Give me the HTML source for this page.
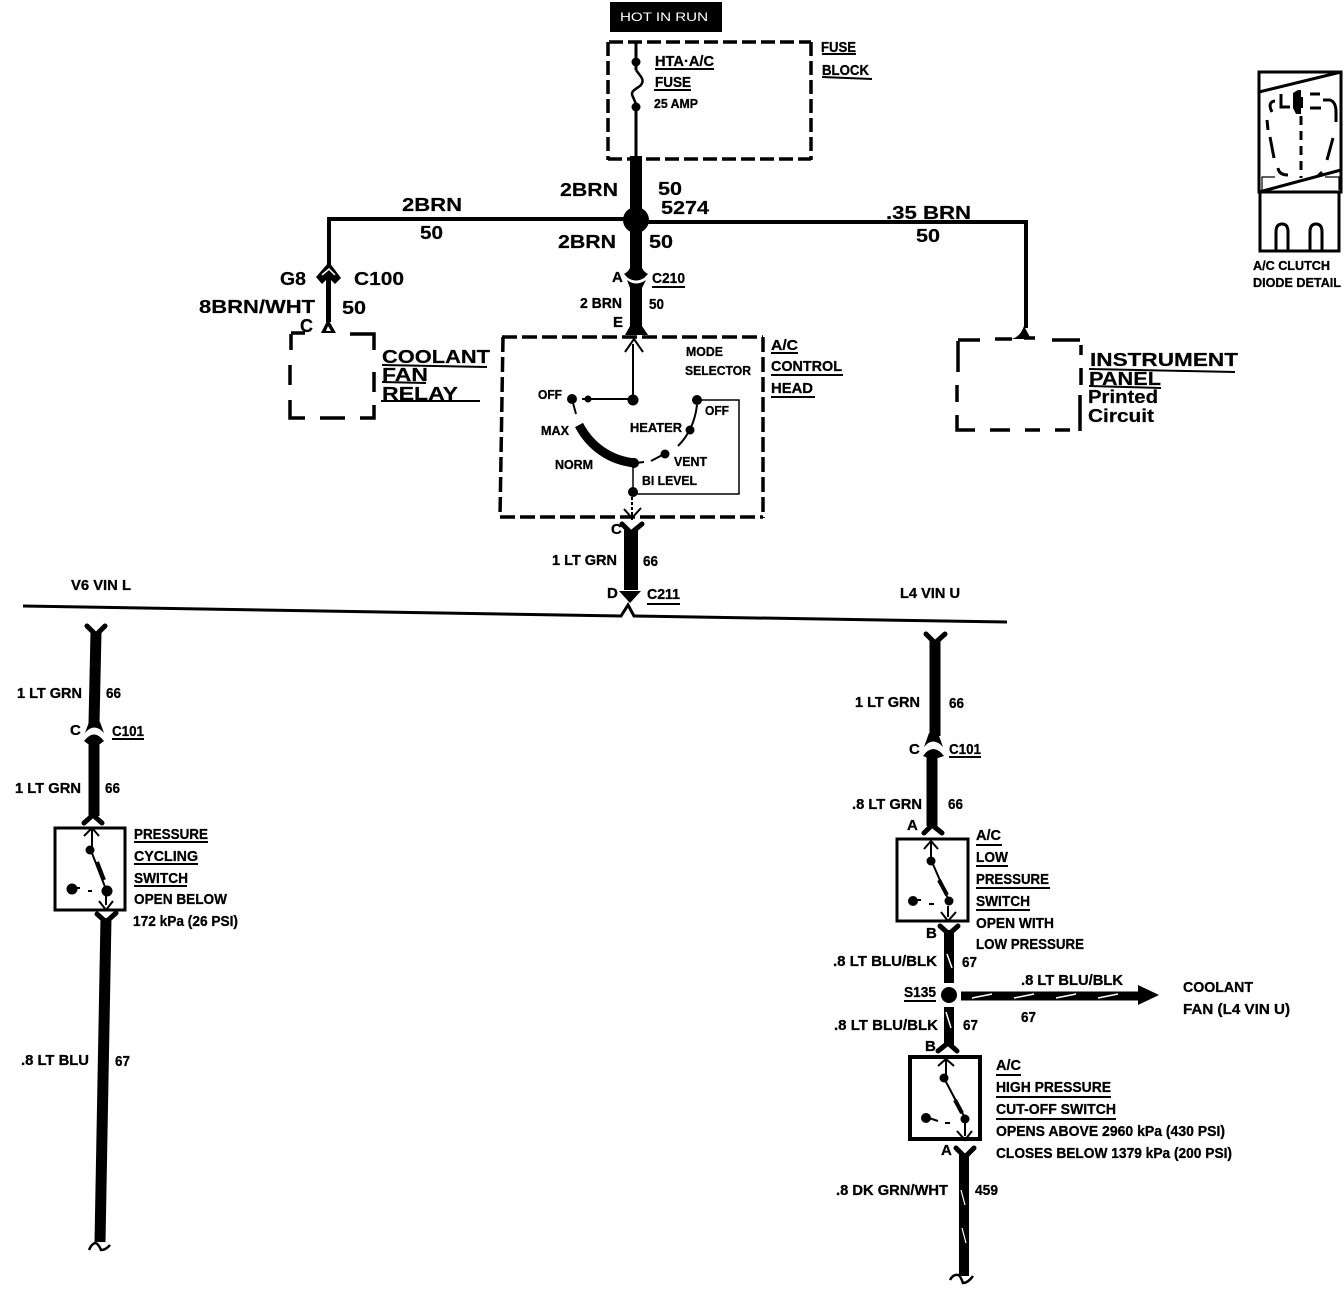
<!DOCTYPE html>
<html><head><meta charset="utf-8"><style>
html,body{margin:0;padding:0;background:#fff}
svg{display:block}
text{font-family:"Liberation Sans",sans-serif;fill:#000}
.b{font-weight:bold;font-size:15px;stroke:#000;stroke-width:.3}
.b text.s{font-size:13px}
.r{font-size:18px;font-weight:bold;stroke:#000;stroke-width:.2}
.l{stroke:#000;fill:none}
.f{stroke:#000;fill:none;stroke-width:5;stroke-linecap:round;stroke-linejoin:round}
.u{stroke:#000;stroke-width:2;fill:none}
</style></head><body>
<svg width="1344" height="1312" viewBox="0 0 1344 1312" xmlns="http://www.w3.org/2000/svg">
<rect x="610" y="2" width="112" height="30" fill="#000"/>
<text x="620" y="21" font-size="12" style="fill:#fff" textLength="88" lengthAdjust="spacingAndGlyphs">HOT IN RUN</text>
<g class="l" stroke-width="3.5">
<path d="M609 42H811M811 42V160M608 159H811M608 42V160" stroke-dasharray="14 5"/>
<path d="M502 337H763M763 337V518M500 517H763M503 337L500 517" stroke-dasharray="15 5"/>
<path d="M291 333H305M350 334H374V350M374 372V392M374 405V418H360M345 418H320M305 418H290V400M290 385V365M291 350V334"/>
<path d="M958 340H980M995 339H1012M1024 338H1035M1052 340H1080M1081 345V355M1081 368V385M1080 395V431M1070 430H1055M1040 430H1025M1010 430H990M975 430H957V415M957 402V385M958 372V341"/>
</g>
<path d="M636 42V70M636 104V156" class="l" stroke-width="3"/><path d="M636 70C640 76 646 80 640 86C634 90 630 92 633 97L636 104" fill="none" stroke="#000" stroke-width="2.5"/>
<circle cx="636" cy="62" r="4.5"/><circle cx="636" cy="107" r="4.5"/>
<path d="M636 156V268" class="l" stroke-width="12"/>
<circle cx="636" cy="220" r="13"/>
<path d="M636 219H329V265M636 222H1026V328" class="l" stroke-width="4"/>
<path d="M1010 339Q1020 338 1024 326L1031 339Z"/>
<!-- C210 -->
<path d="M630 262V268Q628 272 624 274L628 278Q636 283 644 278L648 274Q644 272 642 268V262Z"/>
<path d="M627 280Q636 287 646 280L642 288V326L648 335H625L630 326V288Z"/>
<!-- G8/C100 -->
<path d="M329 262L341 278L335 284L331 280V322H326V280L322 284L316 277Z"/>
<path d="M322 275L329 269L335 275" stroke="#fff" stroke-width="1.5" fill="none"/>
<path d="M321 333L328 319L336 333Z"/><path d="M326 331L328 326L331 331Z" fill="#fff"/>
<!-- selector -->
<path d="M633 344V399H582" class="l" stroke-width="2"/><path d="M625 352L634 339L643 352" class="l" stroke-width="2"/>
<circle cx="572" cy="399" r="5"/><circle cx="588" cy="399" r="3.5"/><circle cx="633" cy="400" r="5.5"/><circle cx="697" cy="400" r="5"/>
<path d="M573 403L576 414" class="l" stroke-width="2"/>
<path d="M579 425C590 446 610 461 636 463" class="l" stroke-width="9"/>
<circle cx="634" cy="463" r="5"/>
<path d="M697 405C695 422 688 436 678 446M668 452L651 461M644 462L636 463" class="l" stroke-width="2"/>
<circle cx="690" cy="430" r="4.5"/><circle cx="665" cy="454" r="4.5"/>
<path d="M700 400H739V494H636M633 467V492" class="l" stroke-width="1.5"/>
<circle cx="633" cy="492" r="5"/><path d="M632 497V515" class="l" stroke-width="2" stroke-dasharray="3 2"/>
<path d="M624 509L632 518L641 508M632 515V520" class="l" stroke-width="2"/>
<path d="M622 524L631 533L642 524" class="f"/>
<path d="M631 530V590" class="l" stroke-width="14"/><path d="M619 591L641 591L630 603Z"/>
<path d="M23 606L621 616L628 605L634 616L1007 622" class="l" stroke-width="3"/>
<!-- left branch -->
<path d="M87 626L96 635L105 626" class="f"/>
<path d="M96 632L94 724" class="l" stroke-width="11"/>
<path d="M89 722L85 733Q94 722 104 733L100 722Z"/><path d="M84 741Q94 728 104 741L100 744H88Z"/>
<path d="M94 738V816" class="l" stroke-width="11"/><path d="M84 823L93 815L102 823" class="f"/>
<rect x="55" y="828" width="70" height="82" fill="#fff" stroke="#000" stroke-width="3"/>
<path d="M92 827V848M84 836L92 828L99 836M90 848L107 892M72 888H80M88 891H92M106 895V905M99 901L106 910L113 901" class="l" stroke-width="2"/>
<path d="M97 862L104 880" class="l" stroke-width="4"/>
<circle cx="90" cy="850" r="4.5"/><circle cx="72" cy="889" r="5.5"/><circle cx="107" cy="891" r="5.5"/>
<path d="M97 914L106 922L116 913" class="f"/>
<path d="M106 918L100 1242" class="l" stroke-width="11"/>
<path d="M89 1250Q92 1243 96 1243Q99 1245 101 1250Q106 1250 110 1245" class="l" stroke-width="2.5"/>
<!-- right branch -->
<path d="M926 634L935 643L945 634" class="f"/>
<path d="M935 640V736" class="l" stroke-width="11"/>
<path d="M929 733L924 747Q933 736 943 747L938 733Z"/><path d="M923 756Q933 742 944 756L938 758H928Z"/>
<path d="M932 755V826" class="l" stroke-width="11"/><path d="M924 833L932 825L942 833" class="f"/>
<rect x="897" y="839" width="71" height="82" fill="#fff" stroke="#000" stroke-width="3"/>
<path d="M931 841V861M924 849L931 841L938 849M932 862L949 901M913 900H921M929 904H934M948 906V917M941 912L948 921L956 912" class="l" stroke-width="2"/>
<path d="M939 880L947 895" class="l" stroke-width="4"/>
<circle cx="931" cy="861" r="4.5"/><circle cx="913" cy="901" r="5"/><circle cx="949" cy="901" r="4.5"/>
<path d="M940 926L949 934L958 926" class="f"/>
<path d="M949 930V983" class="l" stroke-width="10"/>
<circle cx="949" cy="995" r="8"/>
<path d="M949 1007V1046" class="l" stroke-width="10"/>
<path d="M938 1051L948 1043L957 1051" class="f"/>
<path d="M947 954L952 968M946 1012L951 1028" stroke="#fff" stroke-width="1.5"/>
<path d="M961 996H1140" class="l" stroke-width="9"/><path d="M1138 985L1159 995L1138 1005Z"/>
<path d="M972 998L992 994M1014 998L1034 994M1056 998L1076 994M1098 998L1118 994" stroke="#fff" stroke-width="1.5"/>
<rect x="910" y="1057" width="70" height="82" fill="#fff" stroke="#000" stroke-width="4"/>
<path d="M946 1058V1078M938 1066L946 1059L954 1066M945 1080L965 1118M929 1118L938 1121M945 1123H950M965 1122V1136M957 1131L965 1140L972 1131" class="l" stroke-width="2"/>
<path d="M955 1100L962 1113" class="l" stroke-width="4"/>
<circle cx="944" cy="1078" r="4.5"/><circle cx="926" cy="1118" r="5"/><circle cx="965" cy="1119" r="4.5"/>
<path d="M956 1148L965 1157L974 1148" class="f"/>
<path d="M964 1155V1276" class="l" stroke-width="10"/>
<path d="M950 1280Q953 1274 958 1275Q960 1275 963 1283Q968 1283 973 1276" class="l" stroke-width="2.5"/>
<path d="M961 1190L965 1205M962 1228L966 1243" stroke="#fff" stroke-width="1.2"/>
<!-- diode detail -->
<g class="l">
<rect x="1259" y="72" width="82" height="120" stroke-width="3"/>
<path d="M1259 92L1341 72M1259 192L1341 170" stroke-width="3"/>
<path d="M1260 192H1339V251H1260Z" stroke-width="3"/>
<path d="M1276 251V232Q1276 224 1282 224Q1288 224 1288 232V251M1310 251V232Q1310 224 1316 224Q1322 224 1322 232V251" stroke-width="3"/>
<path d="M1262 190V177H1275M1339 190V177H1325" stroke-width="1.2"/>
<path d="M1301 116V178" stroke-width="3" stroke-dasharray="9 6"/>
<path d="M1272 112Q1267 102 1275 101M1267 120L1268 130M1270 137L1274 158M1278 168Q1279 175 1288 175M1281 94V107H1290M1310 94H1320M1310 108H1321M1323 100H1330Q1336 102 1336 112V122M1333 138L1327 160M1322 172L1318 176" stroke-width="3"/>
</g>
<path d="M1293 93L1298 90H1301V97H1303V108H1301V114H1296L1293 108Z"/>
<!-- underlines -->
<g class="u">
<path d="M655 69H714M654 90H691M822 54H856M822 77L872 79"/>
<path d="M382 365L487 367M382 382L426 383M381 401L480 401"/>
<path d="M1089 369L1235 372M1089 386L1161 388"/>
<path d="M771 353H798M771 375H843M771 397H815"/>
<path d="M652 287H685M647 604H680M112 739H144M949 757H981"/>
<path d="M134 842H208M134 864H198M134 886H187"/>
<path d="M976 845H1002M976 866H1008M976 888H1050M976 910H1030M904 1001H936"/>
<path d="M996 1075H1021M996 1097H1111M996 1119H1116"/>
</g>
<!-- large labels -->
<g class="r">
<text x="560" y="196" textLength="58" lengthAdjust="spacingAndGlyphs">2BRN</text>
<text x="658" y="195" textLength="24" lengthAdjust="spacingAndGlyphs">50</text>
<text x="661" y="214" textLength="48" lengthAdjust="spacingAndGlyphs">5274</text>
<text x="402" y="211" textLength="60" lengthAdjust="spacingAndGlyphs">2BRN</text>
<text x="420" y="239" textLength="23" lengthAdjust="spacingAndGlyphs">50</text>
<text x="886" y="219" textLength="85" lengthAdjust="spacingAndGlyphs">.35 BRN</text>
<text x="916" y="242" textLength="24" lengthAdjust="spacingAndGlyphs">50</text>
<text x="558" y="248" textLength="58" lengthAdjust="spacingAndGlyphs">2BRN</text>
<text x="649" y="248" textLength="24" lengthAdjust="spacingAndGlyphs">50</text>
<text x="280" y="285" textLength="26" lengthAdjust="spacingAndGlyphs">G8</text>
<text x="354" y="285" textLength="50" lengthAdjust="spacingAndGlyphs">C100</text>
<text x="199" y="313" textLength="116" lengthAdjust="spacingAndGlyphs">8BRN/WHT</text>
<text x="342" y="314" textLength="24" lengthAdjust="spacingAndGlyphs">50</text>
<text x="300" y="332" textLength="13" lengthAdjust="spacingAndGlyphs">C</text>
<text x="382" y="363" textLength="108" lengthAdjust="spacingAndGlyphs">COOLANT</text>
<text x="382" y="381" textLength="46" lengthAdjust="spacingAndGlyphs">FAN</text>
<text x="382" y="400" textLength="76" lengthAdjust="spacingAndGlyphs">RELAY</text>
<text x="1090" y="366" textLength="148" lengthAdjust="spacingAndGlyphs">INSTRUMENT</text>
<text x="1089" y="385" textLength="72" lengthAdjust="spacingAndGlyphs">PANEL</text>
<text x="1088" y="403" textLength="70" lengthAdjust="spacingAndGlyphs">Printed</text>
<text x="1088" y="422" textLength="66" lengthAdjust="spacingAndGlyphs">Circuit</text>
</g>
<!-- small labels -->
<g class="b">
<text x="655" y="66" textLength="59" lengthAdjust="spacingAndGlyphs">HTA·A/C</text>
<text x="655" y="87" textLength="36" lengthAdjust="spacingAndGlyphs">FUSE</text>
<text class="s" x="654" y="108" textLength="44" lengthAdjust="spacingAndGlyphs">25 AMP</text>
<text x="821" y="52" textLength="35" lengthAdjust="spacingAndGlyphs">FUSE</text>
<text x="822" y="75" textLength="47" lengthAdjust="spacingAndGlyphs">BLOCK</text>
<text x="612" y="282">A</text>
<text x="652" y="283" textLength="33" lengthAdjust="spacingAndGlyphs">C210</text>
<text x="580" y="308" textLength="42" lengthAdjust="spacingAndGlyphs">2 BRN</text>
<text x="649" y="309" textLength="15" lengthAdjust="spacingAndGlyphs">50</text>
<text x="613" y="327">E</text>
<text x="771" y="350" textLength="27" lengthAdjust="spacingAndGlyphs">A/C</text>
<text x="771" y="371" textLength="71" lengthAdjust="spacingAndGlyphs">CONTROL</text>
<text x="771" y="393" textLength="42" lengthAdjust="spacingAndGlyphs">HEAD</text>
<text class="s" x="686" y="356" textLength="37" lengthAdjust="spacingAndGlyphs">MODE</text>
<text class="s" x="685" y="375" textLength="66" lengthAdjust="spacingAndGlyphs">SELECTOR</text>
<text class="s" x="538" y="399" textLength="24" lengthAdjust="spacingAndGlyphs">OFF</text>
<text class="s" x="541" y="435" textLength="28" lengthAdjust="spacingAndGlyphs">MAX</text>
<text class="s" x="630" y="432" textLength="52" lengthAdjust="spacingAndGlyphs">HEATER</text>
<text class="s" x="705" y="415" textLength="24" lengthAdjust="spacingAndGlyphs">OFF</text>
<text class="s" x="555" y="469" textLength="38" lengthAdjust="spacingAndGlyphs">NORM</text>
<text class="s" x="674" y="466" textLength="33" lengthAdjust="spacingAndGlyphs">VENT</text>
<text class="s" x="642" y="485" textLength="55" lengthAdjust="spacingAndGlyphs">BI LEVEL</text>
<text x="611" y="534">C</text>
<text x="552" y="565" textLength="65" lengthAdjust="spacingAndGlyphs">1 LT GRN</text>
<text x="643" y="566" textLength="15" lengthAdjust="spacingAndGlyphs">66</text>
<text x="71" y="590" textLength="60" lengthAdjust="spacingAndGlyphs">V6 VIN L</text>
<text x="607" y="598">D</text>
<text x="647" y="599" textLength="33" lengthAdjust="spacingAndGlyphs">C211</text>
<text x="900" y="598" textLength="60" lengthAdjust="spacingAndGlyphs">L4 VIN U</text>
<text x="17" y="698" textLength="65" lengthAdjust="spacingAndGlyphs">1 LT GRN</text>
<text x="106" y="698" textLength="15" lengthAdjust="spacingAndGlyphs">66</text>
<text x="70" y="735">C</text>
<text x="112" y="736" textLength="32" lengthAdjust="spacingAndGlyphs">C101</text>
<text x="15" y="793" textLength="66" lengthAdjust="spacingAndGlyphs">1 LT GRN</text>
<text x="105" y="793" textLength="15" lengthAdjust="spacingAndGlyphs">66</text>
<text x="134" y="839" textLength="74" lengthAdjust="spacingAndGlyphs">PRESSURE</text>
<text x="134" y="861" textLength="64" lengthAdjust="spacingAndGlyphs">CYCLING</text>
<text x="134" y="883" textLength="54" lengthAdjust="spacingAndGlyphs">SWITCH</text>
<text x="134" y="904" textLength="93" lengthAdjust="spacingAndGlyphs">OPEN BELOW</text>
<text x="133" y="926" textLength="105" lengthAdjust="spacingAndGlyphs">172 kPa (26 PSI)</text>
<text x="21" y="1065" textLength="68" lengthAdjust="spacingAndGlyphs">.8 LT BLU</text>
<text x="115" y="1066" textLength="15" lengthAdjust="spacingAndGlyphs">67</text>
<text x="855" y="707" textLength="65" lengthAdjust="spacingAndGlyphs">1 LT GRN</text>
<text x="949" y="708" textLength="15" lengthAdjust="spacingAndGlyphs">66</text>
<text x="909" y="754">C</text>
<text x="949" y="754" textLength="32" lengthAdjust="spacingAndGlyphs">C101</text>
<text x="852" y="809" textLength="70" lengthAdjust="spacingAndGlyphs">.8 LT GRN</text>
<text x="948" y="809" textLength="15" lengthAdjust="spacingAndGlyphs">66</text>
<text x="907" y="830">A</text>
<text x="976" y="840" textLength="25" lengthAdjust="spacingAndGlyphs">A/C</text>
<text x="976" y="862" textLength="32" lengthAdjust="spacingAndGlyphs">LOW</text>
<text x="976" y="884" textLength="73" lengthAdjust="spacingAndGlyphs">PRESSURE</text>
<text x="976" y="906" textLength="54" lengthAdjust="spacingAndGlyphs">SWITCH</text>
<text x="976" y="928" textLength="78" lengthAdjust="spacingAndGlyphs">OPEN WITH</text>
<text x="976" y="949" textLength="108" lengthAdjust="spacingAndGlyphs">LOW PRESSURE</text>
<text x="926" y="938">B</text>
<text x="833" y="966" textLength="104" lengthAdjust="spacingAndGlyphs">.8 LT BLU/BLK</text>
<text x="962" y="967" textLength="15" lengthAdjust="spacingAndGlyphs">67</text>
<text x="904" y="997" textLength="32" lengthAdjust="spacingAndGlyphs">S135</text>
<text x="1021" y="985" textLength="102" lengthAdjust="spacingAndGlyphs">.8 LT BLU/BLK</text>
<text x="1021" y="1022" textLength="15" lengthAdjust="spacingAndGlyphs">67</text>
<text x="1183" y="992" textLength="70" lengthAdjust="spacingAndGlyphs">COOLANT</text>
<text x="1183" y="1014" textLength="107" lengthAdjust="spacingAndGlyphs">FAN (L4 VIN U)</text>
<text x="834" y="1030" textLength="104" lengthAdjust="spacingAndGlyphs">.8 LT BLU/BLK</text>
<text x="963" y="1030" textLength="15" lengthAdjust="spacingAndGlyphs">67</text>
<text x="925" y="1051">B</text>
<text x="996" y="1070" textLength="25" lengthAdjust="spacingAndGlyphs">A/C</text>
<text x="996" y="1092" textLength="115" lengthAdjust="spacingAndGlyphs">HIGH PRESSURE</text>
<text x="996" y="1114" textLength="120" lengthAdjust="spacingAndGlyphs">CUT-OFF SWITCH</text>
<text x="996" y="1136" textLength="229" lengthAdjust="spacingAndGlyphs">OPENS ABOVE 2960 kPa (430 PSI)</text>
<text x="996" y="1158" textLength="236" lengthAdjust="spacingAndGlyphs">CLOSES BELOW 1379 kPa (200 PSI)</text>
<text x="941" y="1155">A</text>
<text x="836" y="1195" textLength="112" lengthAdjust="spacingAndGlyphs">.8 DK GRN/WHT</text>
<text x="975" y="1195" textLength="23" lengthAdjust="spacingAndGlyphs">459</text>
<text class="s" x="1253" y="270" textLength="77" lengthAdjust="spacingAndGlyphs">A/C CLUTCH</text>
<text class="s" x="1253" y="287" textLength="88" lengthAdjust="spacingAndGlyphs">DIODE DETAIL</text>
</g>
</svg>
</body></html>
